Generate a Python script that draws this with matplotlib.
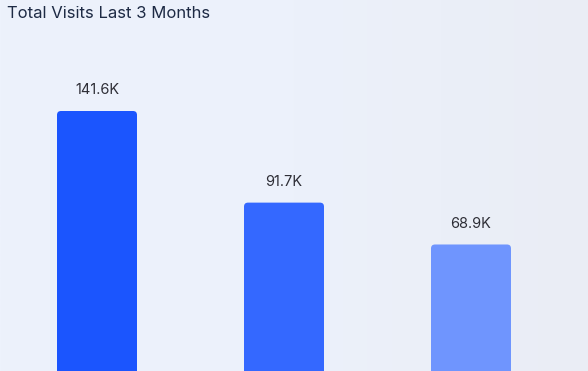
import matplotlib
matplotlib.use("Agg")
import matplotlib.pyplot as plt
import numpy as np
from matplotlib.patches import FancyBboxPatch
from matplotlib.colors import LinearSegmentedColormap

categories = ["Month 1", "Month 2", "Month 3"]
values = [141.6, 91.7, 68.9]
labels = ["141.6K", "91.7K", "68.9K"]
colors = ["#1B55FE", "#3468FF", "#6F95FE"]
title = "Total Visits Last 3 Months"

W, H = 5.88, 3.71
fig = plt.figure(figsize=(W, H), dpi=100)

# background gradient
bg = fig.add_axes([0, 0, 1, 1], zorder=0)
cmap = LinearSegmentedColormap.from_list("bg", ["#EDF2FC", "#ECF1FB", "#EAEDF5"])
grad = np.linspace(0, 1, 256).reshape(1, -1)
bg.imshow(grad, aspect="auto", cmap=cmap, extent=[0, 1, 0, 1])
bg.set_axis_off()

ax = fig.add_axes([0, 0, 1, 1], zorder=1)
ax.patch.set_alpha(0)
x = np.arange(len(categories))
ax.set_xlim(-97 / 187, (588 - 97) / 187)
ax.set_ylim(0, 371 * 141.6 / 260)
bars = ax.bar(x, values, width=80 / 187, color="none")
r_x = 4 / 187
r_y = 4 * 141.6 / 260
for b, c in zip(bars, colors):
    p = FancyBboxPatch((b.get_x(), b.get_y() - 10), b.get_width(), b.get_height() + 10,
                       boxstyle=f"round,pad=0,rounding_size={r_x}",
                       mutation_aspect=r_y / r_x, facecolor=c, edgecolor="none")
    ax.add_patch(p)
    b.set_visible(False)
for xi, v, lab in zip(x, values, labels):
    ax.annotate(lab, (xi, v), xytext=(0, 10), textcoords="offset points",
                ha="center", va="bottom", fontsize=10.5, color="#2E2E36",
                family=["Inter", "DejaVu Sans"])
ax.set_axis_off()

fig.text(7 / 588, 1 - 13 / 371, title, ha="left", va="center", fontsize=12,
         color="#1D2A44", family=["Inter", "DejaVu Sans"])

fig.savefig("out.png", dpi=100)
